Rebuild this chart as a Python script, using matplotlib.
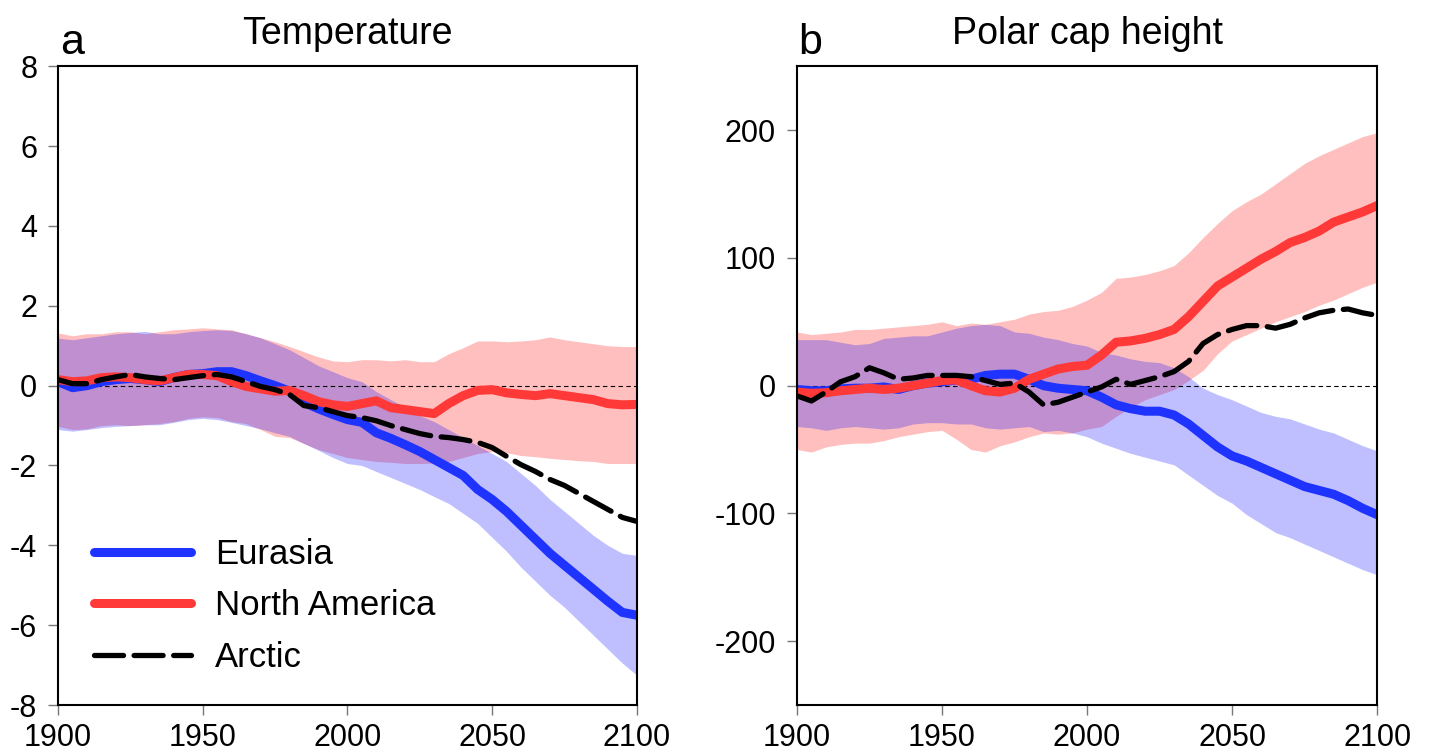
import numpy as np
import matplotlib
matplotlib.use("Agg")
import matplotlib.pyplot as plt

plt.rcParams['font.family'] = ['Liberation Sans', 'DejaVu Sans']
plt.rcParams['axes.unicode_minus'] = False

# --- datos (cada 5 anios) ---
anios = list(range(1900, 2101, 5))

# panel a: temperatura
temp_eurasia = [0.1, -0.05, 0.0, 0.1, 0.15, 0.18, 0.15, 0.1, 0.2, 0.28, 0.3, 0.35, 0.35, 0.25,
                0.12, 0.0, -0.14, -0.42, -0.58, -0.72, -0.85, -0.92, -1.18, -1.32, -1.48, -1.65,
                -1.85, -2.05, -2.25, -2.6, -2.85, -3.15, -3.5, -3.85, -4.2, -4.5, -4.8, -5.1,
                -5.4, -5.68, -5.75]
temp_eurasia_sup = [1.19, 1.15, 1.2, 1.25, 1.3, 1.33, 1.36, 1.3, 1.3, 1.35, 1.38, 1.4, 1.38, 1.3,
                    1.2, 1.05, 0.9, 0.7, 0.5, 0.35, 0.2, 0.1, -0.15, -0.35, -0.55, -0.75, -0.9,
                    -1.1, -1.3, -1.5, -1.7, -1.9, -2.2, -2.5, -2.85, -3.15, -3.45, -3.75, -4.0,
                    -4.2, -4.25]
temp_eurasia_inf = [-1.1, -1.14, -1.1, -1.05, -1.02, -1.0, -0.98, -0.98, -0.92, -0.85, -0.82,
                    -0.85, -0.92, -1.0, -1.08, -1.18, -1.27, -1.45, -1.62, -1.8, -1.95, -2.0,
                    -2.15, -2.3, -2.45, -2.6, -2.78, -2.95, -3.2, -3.45, -3.8, -4.15, -4.55,
                    -4.9, -5.25, -5.55, -5.9, -6.25, -6.6, -6.95, -7.25]

temp_namerica = [0.15, 0.1, 0.12, 0.2, 0.22, 0.2, 0.15, 0.12, 0.2, 0.28, 0.28, 0.25, 0.1, -0.02,
                 -0.08, -0.14, -0.12, -0.25, -0.4, -0.48, -0.52, -0.45, -0.38, -0.55, -0.6, -0.65,
                 -0.7, -0.45, -0.25, -0.12, -0.1, -0.18, -0.22, -0.25, -0.2, -0.25, -0.3, -0.35,
                 -0.45, -0.48, -0.47]
temp_namerica_sup = [1.32, 1.25, 1.3, 1.3, 1.35, 1.35, 1.3, 1.35, 1.4, 1.42, 1.45, 1.42, 1.4,
                     1.3, 1.2, 1.1, 0.98, 0.85, 0.72, 0.62, 0.6, 0.65, 0.65, 0.62, 0.65, 0.6, 0.6,
                     0.8, 0.95, 1.12, 1.12, 1.1, 1.12, 1.15, 1.22, 1.15, 1.1, 1.05, 1.0, 0.98, 0.98]
temp_namerica_inf = [-1.02, -1.1, -1.08, -1.0, -0.98, -1.0, -0.98, -0.95, -0.9, -0.82, -0.78,
                     -0.8, -0.9, -0.95, -1.1, -1.27, -1.3, -1.45, -1.6, -1.7, -1.8, -1.85, -1.9,
                     -1.92, -1.95, -1.95, -1.94, -1.9, -1.8, -1.7, -1.65, -1.68, -1.75, -1.78,
                     -1.82, -1.85, -1.88, -1.9, -1.95, -1.95, -1.95]

temp_artico = [0.15, 0.05, 0.05, 0.15, 0.22, 0.28, 0.22, 0.18, 0.15, 0.2, 0.25, 0.28, 0.22, 0.1,
               -0.02, -0.1, -0.22, -0.5, -0.55, -0.65, -0.75, -0.8, -0.88, -1.0, -1.1, -1.2,
               -1.27, -1.3, -1.35, -1.42, -1.55, -1.77, -1.98, -2.15, -2.35, -2.5, -2.7, -2.9,
               -3.1, -3.3, -3.4]

# panel b: altura del casquete polar
pch_eurasia = [-3, -4, -4, -2.5, -2, -2, -1, -3, 0, 2, 3, 4.5, 5, 8, 9, 9, 5, 0, -2, -3, -4, -9,
               -15, -18, -20, -20, -23, -30, -39, -48, -55, -59, -64, -69, -74, -79, -82, -85,
               -90, -96, -101]
pch_eurasia_sup = [36, 36, 36, 34, 32, 33, 37, 38, 39, 39, 42, 45, 47, 48, 47, 42, 41, 38, 36,
                   33, 31, 26, 24, 21, 19, 18, 14, 7, -2, -7, -11, -16, -21, -24, -26, -30, -34,
                   -37, -42, -47, -51]
pch_eurasia_inf = [-32, -33, -35, -33, -32, -33, -34, -33, -30, -29, -29, -30, -30, -33, -34,
                   -33, -32, -36, -35, -37, -40, -45, -49, -53, -56, -59, -62, -70, -78, -86,
                   -92, -101, -108, -115, -119, -124, -129, -134, -139, -144, -148]

pch_namerica = [-5, -6, -5.5, -4, -3, -2, -3, -2, 0, 2, 4, 4.5, 0, -4, -5, -2, 5, 9, 13, 15, 16,
                24, 34, 35, 37, 40, 44, 54, 66, 78, 85, 92, 99, 105, 112, 116, 121, 128, 132,
                136, 141]
pch_namerica_sup = [42, 40, 41, 42, 44, 44, 45, 46, 47, 48, 50, 47, 49, 48, 50, 52, 56, 58, 59,
                    62, 67, 73, 84, 85, 87, 90, 94, 104, 116, 127, 137, 144, 150, 158, 166, 174,
                    180, 185, 190, 195, 198]
pch_namerica_inf = [-50, -52, -48, -46, -45, -45, -43, -40, -38, -36, -35, -42, -50, -52, -47,
                    -44, -40, -37, -38, -37, -34, -32, -24, -17, -11, -7, -3, 4, 12, 25, 35, 40,
                    45, 50, 54, 58, 63, 67, 72, 77, 81]

pch_artico = [-8, -12, -5, 3, 7, 14, 10, 5, 6, 8, 8, 8, 7, 4, 1, 2, -5, -15, -13, -9, -5, -1, 5,
              1, 4, 7, 11, 19, 33, 40, 44, 47, 47, 45, 48, 53, 57, 59, 60, 57, 55]

etiquetas = ['Eurasia', 'North America', 'Arctic']

# --- estilos ---
azul = '#1f33ff'
rojo = '#ff3838'

fig = plt.figure(figsize=(14.29, 7.55), dpi=100)
ax_a = fig.add_axes([0.0406, 0.0662, 0.405, 0.846])
ax_b = fig.add_axes([0.5577, 0.0662, 0.406, 0.846])


def dibujar_panel(ax, eu, eu_sup, eu_inf, na, na_sup, na_inf, ar):
    ax.fill_between(anios, na_inf, na_sup, color='red', alpha=0.25, linewidth=0)
    ax.fill_between(anios, eu_inf, eu_sup, color='blue', alpha=0.25, linewidth=0)
    ax.axhline(0, color='black', linewidth=0.8, linestyle=(0, (4, 3)))
    ax.plot(anios, eu, color=azul, linewidth=6.5, solid_capstyle='round',
            solid_joinstyle='round', label=etiquetas[0])
    ax.plot(anios, na, color=rojo, linewidth=6.5, solid_capstyle='round',
            solid_joinstyle='round', label=etiquetas[1])
    ax.plot(anios, ar, color='black', linewidth=3.8, dashes=(5.5, 2.0),
            dash_capstyle='round', label=etiquetas[2])
    ax.set_xlim(1900, 2100)
    ax.set_xticks([1900, 1950, 2000, 2050, 2100])
    for s in ax.spines.values():
        s.set_linewidth(1.5)
    ax.tick_params(axis='both', labelsize=22, length=7, width=1, color='#777777',
                   direction='out', pad=6)
    ax.tick_params(axis='y', pad=8)


dibujar_panel(ax_a, temp_eurasia, temp_eurasia_sup, temp_eurasia_inf,
              temp_namerica, temp_namerica_sup, temp_namerica_inf, temp_artico)
ax_a.set_ylim(-8, 8)
ax_a.set_yticks(range(-8, 9, 2))
ax_a.set_title('Temperature', fontsize=27, pad=16)
ax_a.text(0.003, 1.019, 'a', transform=ax_a.transAxes, fontsize=31, ha='left', va='baseline')
ax_a.legend(loc='upper left', bbox_to_anchor=(0.062, 0.262), frameon=False, fontsize=25,
            handlelength=2.8, handletextpad=0.7, labelspacing=0.54, borderpad=0,
            borderaxespad=0)

dibujar_panel(ax_b, pch_eurasia, pch_eurasia_sup, pch_eurasia_inf,
              pch_namerica, pch_namerica_sup, pch_namerica_inf, pch_artico)
ax_b.set_ylim(-250, 250)
ax_b.set_yticks([-200, -100, 0, 100, 200])
ax_b.set_title('Polar cap height', fontsize=27, pad=16)
ax_b.text(0.003, 1.019, 'b', transform=ax_b.transAxes, fontsize=31, ha='left', va='baseline')

fig.savefig('out.png', dpi=100)
